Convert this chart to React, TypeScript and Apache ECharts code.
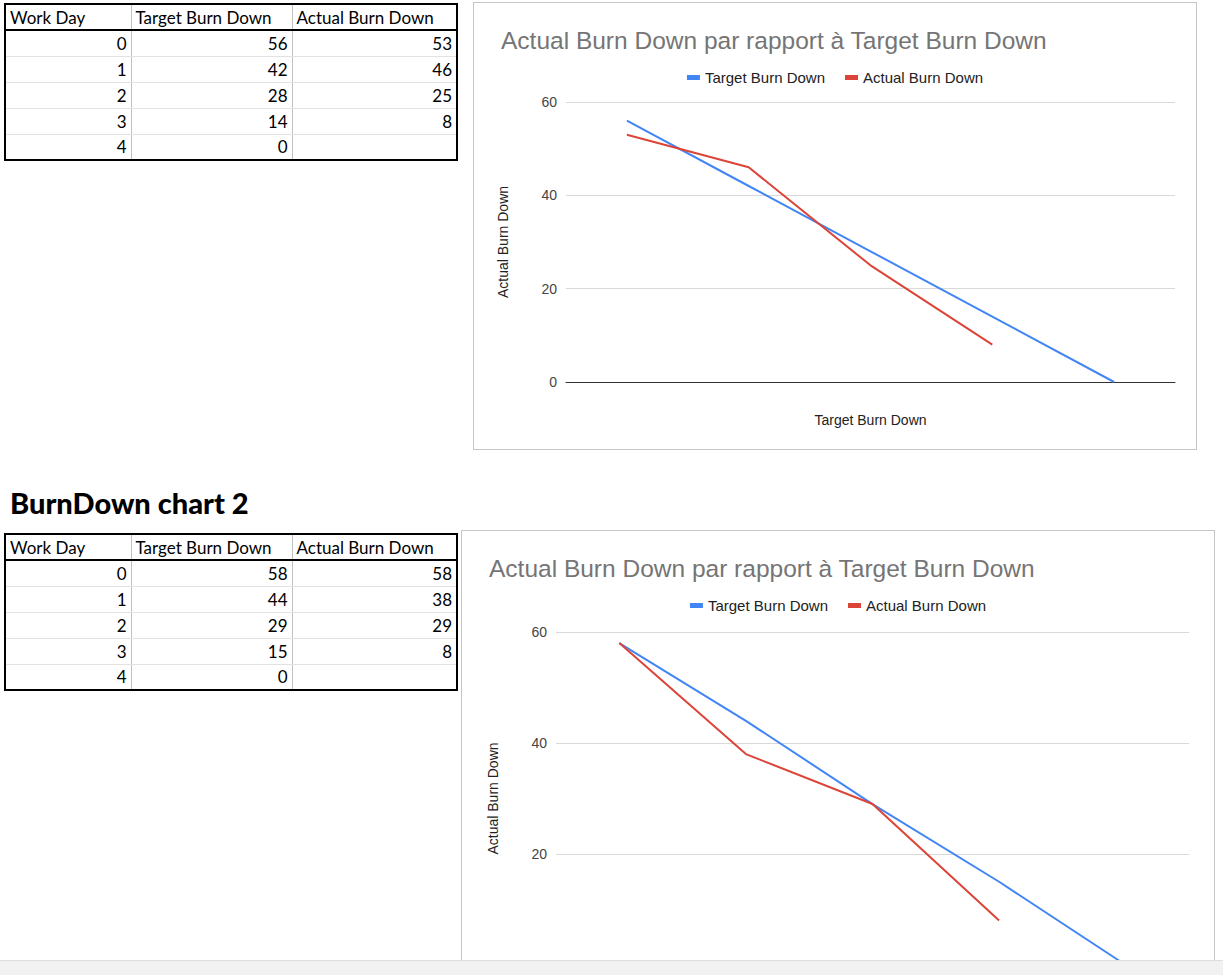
import React, { useEffect, useRef } from "react";
import * as echarts from "echarts";

const headers = ["Work Day", "Target Burn Down", "Actual Burn Down"];
const workDays = ["0", "1", "2", "3", "4"];
const target1 = [56, 42, 28, 14, 0];
const actual1 = [53, 46, 25, 8, null];
const target2 = [58, 44, 29, 15, 0];
const actual2 = [58, 38, 29, 8, null];
const yTicks = [0, 20, 40, 60];

const BLUE = "#4285F4";
const RED = "#DB4437";

interface ChartProps {
  target: (number | null)[];
  actual: (number | null)[];
  left: number;
  top: number;
  width: number;
  height: number;
  grid: { left: number; right: number; top: number; bottom: number };
}

const BurnChart: React.FC<ChartProps> = ({ target, actual, left, top, width, height, grid }) => {
  const ref = useRef<HTMLDivElement>(null);
  useEffect(() => {
    if (!ref.current) return;
    const chart = echarts.init(ref.current, undefined, { renderer: "svg" });
    chart.setOption({
      animation: false,
      textStyle: { fontFamily: "Liberation Sans" },
      title: {
        text: "Actual Burn Down par rapport à Target Burn Down",
        left: 22,
        top: 20,
        textStyle: { fontSize: 24.5, fontWeight: "normal", color: "#757575" },
      },
      legend: {
        top: 62,
        left: "center",
        itemWidth: 13,
        itemHeight: 5,
        itemGap: 20,
        icon: "rect",
        textStyle: { fontSize: 15, color: "#222" },
        data: ["Target Burn Down", "Actual Burn Down"],
      },
      grid,
      xAxis: {
        type: "category",
        data: workDays,
        name: "Target Burn Down",
        nameLocation: "middle",
        nameGap: 31,
        nameTextStyle: { fontSize: 14, color: "#222" },
        axisLine: { lineStyle: { color: "#333" } },
        axisTick: { show: false },
        axisLabel: { show: false },
      },
      yAxis: {
        type: "value",
        min: yTicks[0],
        max: yTicks[yTicks.length - 1],
        interval: 20,
        name: "Actual Burn Down",
        nameLocation: "middle",
        nameGap: 56,
        nameTextStyle: { fontSize: 14, color: "#222" },
        axisLabel: { fontSize: 14, color: "#444", margin: 9 },
        splitLine: { lineStyle: { color: "#d9d9d9" } },
      },
      series: [
        { name: "Target Burn Down", type: "line", data: target, symbol: "none", lineStyle: { color: BLUE, width: 2 }, itemStyle: { color: BLUE } },
        { name: "Actual Burn Down", type: "line", data: actual, symbol: "none", lineStyle: { color: RED, width: 2 }, itemStyle: { color: RED } },
      ],
    });
    return () => chart.dispose();
  }, []);
  return (
    <div
      style={{ position: "absolute", left, top, width, height, border: "1px solid #c6c6c6", background: "#fff" }}
    >
      <div ref={ref} style={{ width: "100%", height: "100%" }} />
    </div>
  );
};

const colW = [126, 161, 165];

const DataTable: React.FC<{ top: number; target: (number | null)[]; actual: (number | null)[] }> = ({ top, target, actual }) => {
  const cell = (i: number, content: React.ReactNode, right: boolean, bottomThick: boolean, key: number) => (
    <td
      key={key}
      style={{
        height: 26,
        padding: "0 4px",
        textAlign: right ? "right" : "left",
        borderRight: i === 2 ? "none" : "1px solid #c0c0c0",
        borderBottom: bottomThick ? "2px solid #000" : "1px solid #e2e2e2",
        boxSizing: "border-box",
        overflow: "hidden",
        whiteSpace: "nowrap",
      }}
    >
      {content}
    </td>
  );
  return (
    <table
      style={{
        position: "absolute",
        left: 4,
        top,
        width: colW[0] + colW[1] + colW[2],
        borderCollapse: "collapse",
        border: "2px solid #000",
        fontFamily: "Lato",
        fontSize: 17,
        color: "#000",
        tableLayout: "fixed",
      }}
    >
      <colgroup>
        {colW.map((w, i) => (
          <col key={i} style={{ width: w }} />
        ))}
      </colgroup>
      <tbody>
        <tr>{headers.map((h, i) => cell(i, h, false, true, i))}</tr>
        {workDays.map((d, r) => (
          <tr key={r}>
            {cell(0, d, true, false, 0)}
            {cell(1, target[r] ?? "", true, false, 1)}
            {cell(2, actual[r] ?? "", true, false, 2)}
          </tr>
        ))}
      </tbody>
    </table>
  );
};

const App: React.FC = () => {
  return (
    <div style={{ position: "fixed", left: 0, top: 0, width: 1223, height: 975, overflow: "hidden", background: "#fff" }}>
      <DataTable top={3} target={target1} actual={actual1} />
      <BurnChart
        target={target1}
        actual={actual1}
        left={473}
        top={2}
        width={722}
        height={446}
        grid={{ left: 92, right: 21, top: 99, bottom: 67 }}
      />
      <div style={{ position: "absolute", left: 10, top: 485, fontFamily: "Lato", fontWeight: 900, fontSize: 29 }}>
        BurnDown chart 2
      </div>
      <DataTable top={533} target={target2} actual={actual2} />
      <BurnChart
        target={target2}
        actual={actual2}
        left={461}
        top={530}
        width={752}
        height={500}
        grid={{ left: 94, right: 25, top: 101, bottom: 66 }}
      />
      <div style={{ position: "absolute", left: 0, top: 960, width: 1223, height: 15, background: "#f1f1f1", borderTop: "1px solid #ddd" }} />
    </div>
  );
};

export default App;
